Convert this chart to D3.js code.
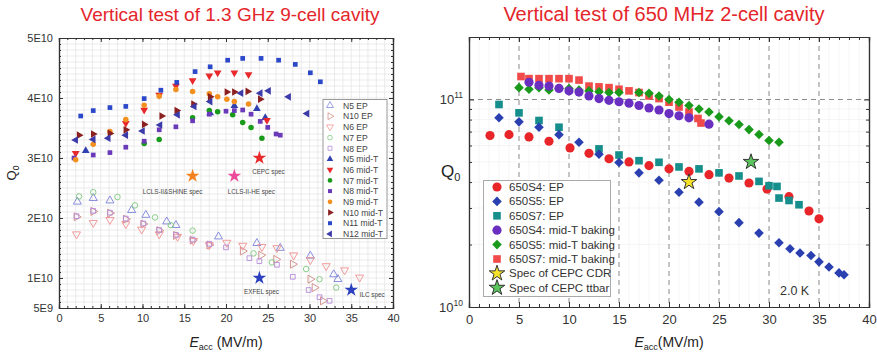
<!DOCTYPE html>
<html><head><meta charset="utf-8">
<script src="https://cdn.jsdelivr.net/npm/d3@7"></script>
<style>
body{margin:0;background:#fff;}
text{font-family:"Liberation Sans",Arial,sans-serif;}
</style></head>
<body><svg id="c" width="877" height="354"></svg>
<script>
// ---------------- LEFT: 1.3 GHz 9-cell (Q0 in units of 1E10) ----------------
const leftNames = ["N5 EP","N10 EP","N6 EP","N7 EP","N8 EP","N5 mid-T","N6 mid-T","N7 mid-T","N8 mid-T","N9 mid-T","N10 mid-T","N11 mid-T","N12 mid-T"];
const n5EP = [[2.2,2.27],[4.1,2.33],[6.1,2.29],[8.7,2.13],[10.4,2.05],[12.9,1.94],[14.0,1.88],[19.1,1.69],[23.7,1.58],[26.5,1.50],[30.1,1.37],[32.9,1.06],[33.4,0.98]];
const n10EP = [[2.1,2.02],[4.1,2.11],[6.1,2.08],[8.0,1.98],[10.1,1.90],[12.0,1.79],[14.0,1.71],[16.0,1.63],[18.0,1.55],[22.0,1.45],[24.2,1.38],[26.0,1.31],[28.0,1.23],[30.1,0.98],[30.6,0.84],[31.6,0.62]];
const n6EP = [[2.1,1.73],[4.1,1.92],[6.1,1.97],[8.0,1.90],[9.9,1.81],[12.0,1.73],[14.2,1.69],[16.1,1.62],[18.0,1.55],[20.1,1.59],[22.0,1.54],[24.3,1.52],[26.1,1.50],[28.1,1.38],[30.1,1.30],[32.0,1.20],[34.2,1.13],[36.0,1.01]];
const n7EP = [[2.4,2.36],[4.1,2.43],[7.0,2.35],[9.1,2.21],[11.5,2.01],[13.4,1.88],[16.0,1.79],[23.3,1.41],[25.5,1.26],[29.6,1.15],[31.2,0.98],[33.2,0.84]];
const n8EP = [[2.1,2.03],[4.1,2.12],[6.1,2.09],[8.0,1.99],[10.1,1.91],[12.0,1.80],[14.0,1.72],[16.0,1.64],[18.0,1.57],[20.0,1.51],[22.8,1.33],[24.0,1.28],[26.1,1.22],[28.0,1.02],[29.9,0.80],[31.2,0.68],[32.4,0.62]];
const n5MT = [[3.2,3.12],[18.1,3.75],[21.0,3.87],[23.7,3.82],[24.7,3.67]];
const n6MT = [[2.0,3.08],[8.0,3.58],[10.2,3.80],[12.0,4.05],[14.0,4.20],[16.0,4.29],[18.0,4.37],[19.0,4.42],[21.0,4.42],[22.7,4.39],[24.9,3.63]];
const n7MT = [[10.2,3.24],[12.0,3.31],[16.0,3.67],[18.0,3.79],[19.0,3.77],[20.8,3.72],[22.0,3.59],[23.0,3.51],[24.3,3.33]];
const n8MT = [[1.8,3.00],[4.1,3.05],[6.1,3.09],[8.0,3.18],[10.2,3.28],[12.0,3.47],[14.0,3.52],[16.0,3.62],[18.0,3.73],[20.0,3.78],[21.0,3.79],[22.0,3.80],[23.0,3.73],[24.1,3.61],[25.0,3.51],[26.0,3.40],[26.5,3.38]];
const n9MT = [[2.0,2.97],[4.1,3.23],[6.1,3.44],[8.0,3.64],[10.2,3.88],[12.0,4.03],[14.0,4.14],[16.0,4.11],[18.0,4.07],[19.0,4.02],[20.1,3.98],[21.0,3.94],[22.7,3.90]];
const n10MT = [[2.4,3.38],[4.1,3.40],[6.1,3.41],[8.0,3.47],[10.2,3.56],[12.3,3.70],[14.1,3.79],[16.1,3.90],[18.1,4.02],[20.1,4.10],[21.0,4.10],[22.6,4.11],[24.1,3.98]];
const n11MT = [[2.6,3.70],[4.1,3.79],[6.1,3.84],[8.0,3.86],[10.2,3.99],[12.2,4.13],[14.1,4.26],[16.3,4.44],[18.1,4.52],[20.2,4.63],[22.0,4.66],[24.2,4.66],[26.3,4.63],[28.3,4.56],[30.1,4.42],[31.3,4.27]];
const n12MT = [[2.0,3.30],[4.1,3.31],[5.9,3.33],[8.0,3.38],[10.0,3.45],[12.1,3.55],[14.2,3.72],[16.2,3.86],[18.1,3.94],[21.8,4.08],[24.1,4.08],[25.1,4.12],[27.5,4.02],[29.7,3.74]];
const leftSpecNames = ["LCLS-II&SHINE spec","LCLS-II-HE spec","CEPC spec","EXFEL spec","ILC spec"];
const leftSpecE = [16, 21, 24, 24, 35];
const leftSpecQ = [2.7, 2.7, 3.0, 1.0, 0.8];
const leftYTicks = [0.5, 1, 2, 3, 4, 5];
const leftYTickLabels = ["5E9","1E10","2E10","3E10","4E10","5E10"];
const xTicks = [0,5,10,15,20,25,30,35,40];

// ---------------- RIGHT: 650 MHz 2-cell (Q0 in units of 1E11) ----------------
const rightNames = ["650S4: EP","650S5: EP","650S7: EP","650S4: mid-T baking","650S5: mid-T baking","650S7: mid-T baking","Spec of CEPC CDR","Spec of CEPC ttbar"];
const s4EP = [[2.1,0.67],[4,0.677],[6,0.66],[8,0.629],[10.1,0.584],[12,0.55],[14,0.518],[16,0.50],[18,0.48],[20,0.463],[22,0.45],[24,0.434],[26,0.418],[28,0.396],[29.8,0.37],[32,0.34],[34,0.29],[35,0.266]];
const s5EP = [[3,0.816],[5,0.78],[7,0.735],[9,0.677],[11,0.622],[13,0.545],[15,0.497],[17,0.443],[19,0.408],[21,0.357],[23,0.32],[25,0.288],[27,0.255],[29,0.227],[31,0.204],[32.1,0.191],[33.1,0.182],[34.2,0.177],[35,0.165],[36,0.156],[37,0.146],[37.5,0.143]];
const s7EP = [[3,0.946],[5,0.862],[7,0.792],[9,0.735],[13,0.578],[15,0.54],[17,0.507],[19,0.498],[21,0.473],[23,0.463],[25,0.443],[27,0.428],[29,0.403],[30,0.384],[30.8,0.381],[31,0.335],[32,0.326],[33,0.311]];
const s4MT = [[6,1.21],[7,1.17],[8,1.16],[9,1.13],[10,1.10],[11,1.085],[12,1.04],[13,1.01],[14,0.99],[15,0.975],[16,0.96],[17,0.935],[18,0.91],[19,0.89],[20,0.855],[21,0.835],[22,0.816],[24,0.76]];
const s5MT = [[5,1.14],[6,1.12],[7,1.14],[8,1.11],[9,1.13],[10,1.13],[11,1.11],[12,1.10],[13,1.09],[14,1.08],[15,1.08],[17,1.08],[18,1.07],[19,1.04],[20,1.0],[21,0.97],[22,0.935],[23,0.90],[24,0.87],[25,0.825],[26,0.79],[27,0.757],[28,0.716],[29,0.678],[30,0.634],[31,0.622]];
const s7MT = [[5.2,1.29],[6,1.26],[7,1.26],[8,1.26],[9,1.26],[10,1.26],[11,1.24],[12,1.16],[13,1.15],[14,1.14],[15,1.12],[16,1.10],[17,1.08],[18,1.04],[19,1.01],[20,0.97],[21,0.92],[22,0.87],[22.9,0.81],[23.2,0.77]];
const rightSpecE = [22, 28.2];
const rightSpecQ = [0.40, 0.50];

// ---------------- drawing ----------------
const svg = d3.select("#c");
const FONT = '"Liberation Sans",Arial,sans-serif';

// titles
svg.append("text").attr("x",230).attr("y",21).attr("text-anchor","middle").attr("fill","#e4262b")
  .attr("font-size",19).text("Vertical test of 1.3 GHz 9-cell cavity");
svg.append("text").attr("x",664).attr("y",21).attr("text-anchor","middle").attr("fill","#e4262b")
  .attr("font-size",20).text("Vertical test of 650 MHz 2-cell cavity");

function sym(type, size, rot){
  return {path: d3.symbol().type(type).size(size)(), rot: rot||0};
}
function drawPts(g, data, x, y, s, fill, stroke, sw){
  g.selectAll(null).data(data).join("path")
    .attr("d", s.path)
    .attr("transform", d=>`translate(${x(d[0])},${y(d[1])}) rotate(${s.rot})`)
    .attr("fill", fill).attr("stroke", stroke||"none").attr("stroke-width", sw||0);
}

// ===== LEFT =====
{
  const L = {x0:59, x1:393, y0:38, y1:308};
  const x = d3.scaleLinear().domain([0,40]).range([L.x0,L.x1]);
  const y = d3.scaleLinear().domain([0.5,5]).range([L.y1,L.y0]);
  const g = svg.append("g");
  // grid
  const grid = g.append("g").attr("stroke","#e2e2e2").attr("stroke-width",0.7);
  d3.range(1,40).forEach(v=>grid.append("line").attr("x1",x(v)).attr("x2",x(v)).attr("y1",L.y0).attr("y2",L.y1));
  d3.range(0.6,5.0,0.1).forEach(v=>grid.append("line").attr("x1",L.x0).attr("x2",L.x1).attr("y1",y(v)).attr("y2",y(v)));
  // axes
  const axB = d3.axisBottom(x).tickValues(xTicks).tickSize(-4).tickPadding(6);
  const axBm = d3.axisBottom(x).tickValues(d3.range(0,41,1)).tickSize(-2).tickFormat("");
  const axL = d3.axisLeft(y).tickValues(leftYTicks).tickSize(-4).tickPadding(6).tickFormat((d,i)=>leftYTickLabels[i]);
  const axLm = d3.axisLeft(y).tickValues(d3.range(0.5,5.01,0.1)).tickSize(-2).tickFormat("");
  g.append("g").attr("transform",`translate(0,${L.y1})`).call(axB);
  g.append("g").attr("transform",`translate(0,${L.y1})`).call(axBm);
  g.append("g").attr("transform",`translate(0,${L.y0})`).call(d3.axisTop(x).tickValues(xTicks).tickSize(-4).tickFormat(""));
  g.append("g").attr("transform",`translate(0,${L.y0})`).call(d3.axisTop(x).tickValues(d3.range(0,41,1)).tickSize(-2).tickFormat(""));
  g.append("g").attr("transform",`translate(${L.x0},0)`).call(axL);
  g.append("g").attr("transform",`translate(${L.x0},0)`).call(axLm);
  g.append("g").attr("transform",`translate(${L.x1},0)`).call(d3.axisRight(y).tickValues(leftYTicks).tickSize(-4).tickFormat(""));
  g.append("g").attr("transform",`translate(${L.x1},0)`).call(d3.axisRight(y).tickValues(d3.range(0.5,5.01,0.1)).tickSize(-2).tickFormat(""));
  g.selectAll(".domain").attr("stroke","#333").attr("stroke-width",1.2);
  g.selectAll(".tick line").attr("stroke","#333");
  g.selectAll(".tick text").attr("font-family",FONT).attr("font-size",11).attr("fill","#333");

  // series
  const st = [
    [n5EP, sym(d3.symbolTriangle,28,0), "none", "#7c82d8", 0.9],
    [n10EP, sym(d3.symbolTriangle,28,90), "none", "#d08a84", 0.9],
    [n6EP, sym(d3.symbolTriangle,28,180), "none", "#f09090", 0.9],
    [n7EP, sym(d3.symbolCircle,24,0), "none", "#7cc87c", 0.9],
    [n8EP, sym(d3.symbolSquare,22,0), "none", "#b48ad8", 0.9],
    [n5MT, sym(d3.symbolTriangle,26,0), "#3040b0"],
    [n6MT, sym(d3.symbolTriangle,26,180), "#e8282a"],
    [n7MT, sym(d3.symbolCircle,24,0), "#1a9a1a"],
    [n8MT, sym(d3.symbolSquare,22,0), "#6a3ab8"],
    [n9MT, sym(d3.symbolCircle,24,0), "#f39020"],
    [n10MT, sym(d3.symbolTriangle,26,90), "#8b2020"],
    [n11MT, sym(d3.symbolSquare,22,0), "#2b48c8"],
    [n12MT, sym(d3.symbolTriangle,26,-90), "#3a3aa8"]
  ];
  const pg = g.append("g");
  st.forEach(s=>drawPts(pg, s[0], x, y, s[1], s[2], s[3], s[4]));

  // specs
  const specColors = ["#f5821f","#ec4b9a","#e8282a","#2b3fbf","#2b3fbf"];
  const labOff = [[-20,18],[17,18],[9,16],[2,16],[21,7]];
  leftSpecNames.forEach((n,i)=>{
    g.append("path").attr("d", d3.symbol().type(d3.symbolStar).size(58)())
      .attr("transform",`translate(${x(leftSpecE[i])},${y(leftSpecQ[i])})`).attr("fill",specColors[i]);
    g.append("text").attr("x",x(leftSpecE[i])+labOff[i][0]).attr("y",y(leftSpecQ[i])+labOff[i][1])
      .attr("text-anchor","middle").attr("font-size",6.3).attr("fill","#444").text(n);
  });

  // legend
  const lg = g.append("g");
  lg.append("rect").attr("x",323).attr("y",99.5).attr("width",64).attr("height",139).attr("fill","#fff").attr("stroke","#999").attr("stroke-width",1);
  leftNames.forEach((n,i)=>{
    const yy = 105.5 + i*10.7;
    const s = st[i];
    lg.append("path").attr("d",s[1].path).attr("transform",`translate(330,${yy}) rotate(${s[1].rot}) scale(0.85)`)
      .attr("fill",s[2]).attr("stroke",s[3]||"none").attr("stroke-width",s[4]||0);
    lg.append("text").attr("x",343).attr("y",yy+3.2).attr("font-size",8.6).attr("fill","#444").text(n);
  });

  // axis labels
  const xl = g.append("text").attr("x",226).attr("y",347).attr("text-anchor","middle").attr("font-size",14).attr("fill","#222");
  xl.append("tspan").attr("font-style","italic").text("E");
  xl.append("tspan").attr("font-size",9).attr("dy",3).text("acc");
  xl.append("tspan").attr("dy",-3).text(" (MV/m)");
  const yl = g.append("text").attr("transform","translate(16,173) rotate(-90)").attr("text-anchor","middle").attr("font-size",13).attr("fill","#222");
  yl.append("tspan").text("Q");
  yl.append("tspan").attr("font-size",8.5).attr("dy",3).text("0");
}

// ===== RIGHT =====
{
  const R = {x0:469, x1:869, y0:37, y1:307};
  const x = d3.scaleLinear().domain([0,40]).range([R.x0,R.x1]);
  const y = d3.scaleLog().domain([0.1,2]).range([R.y1,R.y0]);
  const g = svg.append("g");
  const minorY = [0.2,0.3,0.4,0.5,0.6,0.7,0.8,0.9,2];
  // faint minor grid
  const fg = g.append("g").attr("stroke","#f0f0f0").attr("stroke-width",0.7);
  d3.range(1,40).filter(v=>v%5).forEach(v=>fg.append("line").attr("x1",x(v)).attr("x2",x(v)).attr("y1",R.y0).attr("y2",R.y1));
  minorY.slice(0,8).forEach(v=>fg.append("line").attr("x1",R.x0).attr("x2",R.x1).attr("y1",y(v)).attr("y2",y(v)));
  // dashed major grid
  const mg = g.append("g").attr("stroke","#8a8a8a").attr("stroke-width",1).attr("stroke-dasharray","5,4");
  d3.range(5,40,5).forEach(v=>mg.append("line").attr("x1",x(v)).attr("x2",x(v)).attr("y1",R.y0).attr("y2",R.y1));
  mg.append("line").attr("x1",R.x0).attr("x2",R.x1).attr("y1",y(1)).attr("y2",y(1));
  // axes
  g.append("g").attr("transform",`translate(0,${R.y1})`).call(d3.axisBottom(x).tickValues(xTicks).tickSize(-5).tickPadding(8));
  g.append("g").attr("transform",`translate(0,${R.y1})`).call(d3.axisBottom(x).tickValues(d3.range(0,41,1)).tickSize(-3).tickFormat(""));
  g.append("g").attr("transform",`translate(0,${R.y0})`).call(d3.axisTop(x).tickValues(xTicks).tickSize(-5).tickFormat(""));
  g.append("g").attr("transform",`translate(0,${R.y0})`).call(d3.axisTop(x).tickValues(d3.range(0,41,1)).tickSize(-3).tickFormat(""));
  g.append("g").attr("transform",`translate(${R.x0},0)`).call(d3.axisLeft(y).tickValues([0.1,1]).tickSize(-5).tickPadding(6).tickFormat(""));
  g.append("g").attr("transform",`translate(${R.x0},0)`).call(d3.axisLeft(y).tickValues(minorY).tickSize(-3).tickFormat(""));
  g.append("g").attr("transform",`translate(${R.x1},0)`).call(d3.axisRight(y).tickValues([0.1,1]).tickSize(-5).tickFormat(""));
  g.append("g").attr("transform",`translate(${R.x1},0)`).call(d3.axisRight(y).tickValues(minorY).tickSize(-3).tickFormat(""));
  g.selectAll(".domain").attr("stroke","#333").attr("stroke-width",1.2);
  g.selectAll(".tick line").attr("stroke","#333");
  g.selectAll(".tick text").attr("font-family",FONT).attr("font-size",13).attr("fill","#333");
  // y tick labels 10^10, 10^11
  [[0.1,"10"],[1,"11"]].forEach(([v,e])=>{
    const t = g.append("text").attr("x",R.x0-6).attr("y",y(v)+5).attr("text-anchor","end").attr("font-size",13).attr("fill","#333");
    t.append("tspan").text("10");
    t.append("tspan").attr("font-size",8.5).attr("dy",-6).text(e);
  });

  const st = [
    [s4EP, sym(d3.symbolCircle,66,0), "#e8262a"],
    [s5EP, sym(d3.symbolSquare,46,45), "#2a3fb0"],
    [s7EP, sym(d3.symbolSquare,58,0), "#168f8c"],
    [s4MT, sym(d3.symbolCircle,66,0), "#6a2fc0"],
    [s5MT, sym(d3.symbolSquare,46,45), "#1a9a1a"],
    [s7MT, sym(d3.symbolSquare,58,0), "#f04a4a"]
  ];
  const pg = g.append("g");
  [5,4,3,0,2,1].forEach(i=>drawPts(pg, st[i][0], x, y, st[i][1], st[i][2]));
  const starCols = ["#f5e12a","#5cc45c"];
  rightSpecE.forEach((e,i)=>{
    g.append("path").attr("d", d3.symbol().type(d3.symbolStar).size(75)())
      .attr("transform",`translate(${x(e)},${y(rightSpecQ[i])})`).attr("fill",starCols[i]).attr("stroke","#333").attr("stroke-width",1);
  });
  g.append("text").attr("x",780).attr("y",295).attr("font-size",12.5).attr("fill","#333").text("2.0 K");

  // legend
  const lg = g.append("g");
  lg.append("rect").attr("x",483.5).attr("y",180.5).attr("width",127).attr("height",116).attr("fill","#fff").attr("stroke","#aaa").attr("stroke-width",1);
  rightNames.forEach((n,i)=>{
    const yy = 187 + i*14.4;
    if(i<6){
      const s = st[i];
      lg.append("path").attr("d",s[1].path).attr("transform",`translate(497,${yy}) rotate(${s[1].rot})`).attr("fill",s[2]);
    } else {
      lg.append("path").attr("d",d3.symbol().type(d3.symbolStar).size(75)()).attr("transform",`translate(497,${yy})`)
        .attr("fill",starCols[i-6]).attr("stroke","#333").attr("stroke-width",1);
    }
    lg.append("text").attr("x",509).attr("y",yy+4).attr("font-size",11.5).attr("fill","#333").text(n);
  });

  const xl = g.append("text").attr("x",669).attr("y",347).attr("text-anchor","middle").attr("font-size",14).attr("fill","#222");
  xl.append("tspan").attr("font-style","italic").text("E");
  xl.append("tspan").attr("font-size",9).attr("dy",3).text("acc");
  xl.append("tspan").attr("dy",-3).text("(MV/m)");
  const yl = g.append("text").attr("x",441).attr("y",177).attr("font-size",17).attr("fill","#222");
  yl.append("tspan").text("Q");
  yl.append("tspan").attr("font-size",11).attr("dy",4).text("0");
}
</script></body></html>
